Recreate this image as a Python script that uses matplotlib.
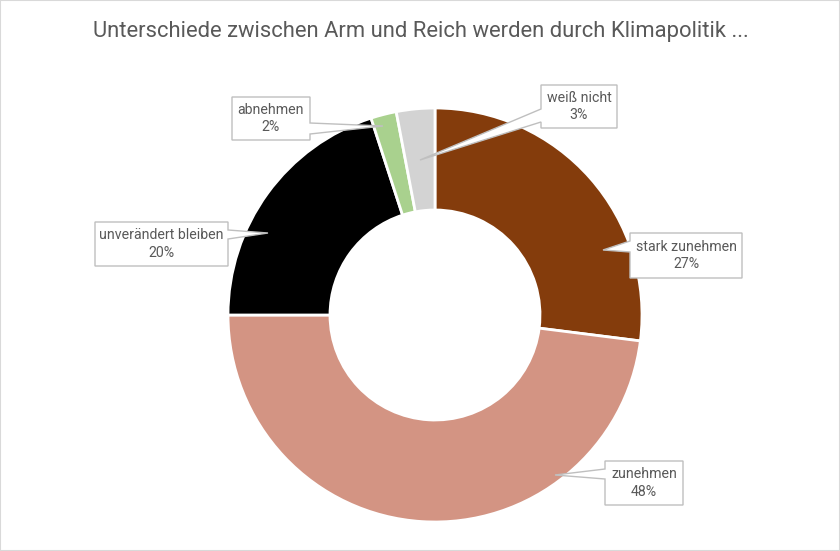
import matplotlib.pyplot as plt
from matplotlib.patches import Polygon, Rectangle

categories = ["stark zunehmen", "zunehmen", "unverändert bleiben", "abnehmen", "weiß nicht"]
values = [27, 48, 20, 2, 3]
colors = ["#843C0C", "#D39483", "#000000", "#A9D18E", "#D3D3D3"]
title = "Unterschiede zwischen Arm und Reich werden durch Klimapolitik ..."

W, H = 840, 551
# callout layout in pixel coords (top-left origin): box x0, y0, x1, y1, side, base y0, base y1, tip
callouts = [
    (630, 233, 742, 278, "left", 241, 252, (603, 250)),
    (605, 461, 683, 505, "left", 469, 479, (555, 475)),
    (95, 222, 228, 266, "right", 230, 239, (268, 233)),
    (232, 97, 310, 140, "right", 123, 134, (383, 126)),
    (541, 85, 617, 128, "left", 109, 122, (420, 160)),
]

fig = plt.figure(figsize=(W / 100, H / 100), dpi=100)
ax = fig.add_axes([0, 0, 1, 1])
ax.set_xlim(0, W)
ax.set_ylim(0, H)
ax.axis("off")


def fy(y):
    return H - y


cx, cy, r = 435, 315, 207
ax.pie(values, colors=colors, startangle=90, counterclock=False,
       center=(cx, fy(cy)), radius=r,
       wedgeprops=dict(width=102, edgecolor="white", linewidth=2))
ax.set_xlim(0, W)
ax.set_ylim(0, H)
ax.set_aspect("auto")

for (x0, y0, x1, y1, side, b0, b1, tip), cat, v in zip(callouts, categories, values):
    if side == "left":
        pts = [(x0, y0), (x1, y0), (x1, y1), (x0, y1), (x0, b1), tip, (x0, b0)]
    else:
        pts = [(x0, y0), (x1, y0), (x1, b0), tip, (x1, b1), (x1, y1), (x0, y1)]
    ax.add_patch(Polygon([(px, fy(py)) for px, py in pts], closed=True,
                         facecolor="white", edgecolor="#BFBFBF", linewidth=1, zorder=5))
    ax.text((x0 + x1) / 2, fy((y0 + y1) / 2), f"{cat}\n{v}%", ha="center", va="center",
            fontsize=10.2, color="#595959", family="Roboto", linespacing=1.35, zorder=6)

ax.text(W / 2 + 1, fy(31), title, ha="center", va="center", fontsize=15.8,
        color="#595959", family="Roboto")

fig.add_artist(Rectangle((0, 0), 1, 1, transform=fig.transFigure, fill=False,
                         edgecolor="#D9D9D9", linewidth=1.5))

fig.savefig("out.png", dpi=100)
